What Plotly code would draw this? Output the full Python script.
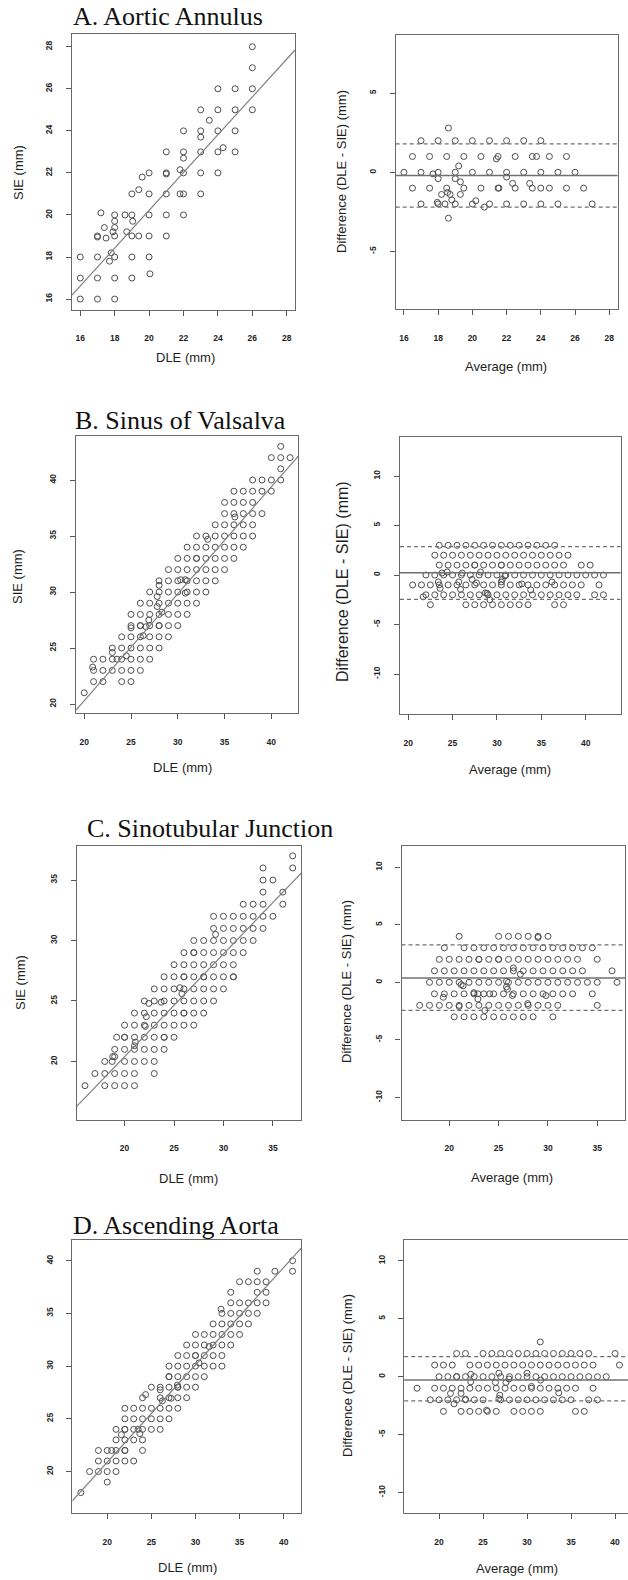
import plotly.graph_objects as go

W, H = 628, 1580

# ---------------- DATA ----------------
# Panel A - Aortic Annulus, scatter (DLE vs SIE)
A_dle = [26,26,26,26,24,25,23,24,25,23.5,22,23,24,25,23,21,22,23,24,25,24.3,22,21,21,22,23,24,21.8,20,19.6,
         19,19.4,20,21,21.8,22,23,17.2,18,18.6,19,20,21,22,18,19.05,17.4,18,17.9,18.7,17,17,17.5,18,19,19.4,20,21,
         16,17,17.8,18,19,20,17.7,16,17,18,19,20.05,16,17,18]
A_sie = [28,27,26,25,26,26,25,25,25,24.5,24,24,24,24,23.7,23,23,23,23,23,23.2,22.7,22,21.95,22,22,22,22.15,22,21.8,
         21,21.2,21,21,21,21,21,20.1,20,20,20,20,20,20,19.7,19.7,19.4,19.4,19.2,19.2,19,18.95,18.9,19,19,19,19,19,
         18,18,18.2,18,18,18,17.8,17,17,17,17,17.2,16,16,16]
A_fit = (2.24, 0.899)
# Panel A - Bland-Altman rows {difference: [averages]}
A_ba_rows = {
    2: [17,18,19,20,21,22,23,24],
    1: [16.5,17.5,18.5,19.5,20.5,21.5,22.5,23.5,23.75,24.5,25.5],
    0: [16,17,18,19,20,21,22,23,24,25,26],
    -1: [16.5,17.5,18.5,19.5,20.5,21.5,21.55,22.5,23.5,24,24.5,25.5,26.5],
    -2: [17,18,18.4,19,20,21,22,23,24,25,27],
}
A_ba_extra_avg = [18.6,21.4,19.2,17.7,18,19,19.3,22,22.35,23.35,18.55,18.7,18.2,19.3,18.8,20.2,17.95,20.7,18.6]
A_ba_extra_dif = [2.8,0.85,0.4,-0.1,-0.4,-0.4,-0.6,-0.3,-0.7,-0.7,-1.27,-1.4,-1.4,-1.4,-1.75,-1.8,-1.9,-2.2,-2.9]
A_ba_lines = (-0.2, 1.8, -2.2)

# Panel B - Sinus of Valsalva, scatter rows {SIE: [DLE]}
B_sc_rows = {
    43: [41], 42: [40,41,42], 41: [41], 40: [38,39,40,41], 39: [36,37,38,39,40],
    38: [35,36,37,38], 37: [35,36,37,38,39], 36: [34,35,36,37,38],
    35: [32,33,34,35,36,37,38], 34: [31,32,33,34,35,36,37], 33: [30,31,32,32,33,34,35,36],
    32: [29,30,31,32,33,34,35], 31: [28,29,30,31,32,33,34], 30: [27,28,29,30,31,32,33],
    29: [26,27,28,29,30,31,32], 28: [25,26,27,28,29,30,31], 27: [25,26,26,27,28,28,29,30],
    26: [24,25,26,27,28,29], 25: [23,24,25,26,27,28], 24: [21,22,23,24,25,26,27],
    23: [21,22,23,24,25,26], 22: [21,22,24,25], 21: [20],
}
B_sc_extra_dle = [36.1,33.2,30.3,30.8,30.8,28,27.8,27.8,28.3,25,26.6,26.9,26.3,23,23.5,24.5,20.9]
B_sc_extra_sie = [36.7,34.7,31.1,31.1,29.9,30.6,29.6,28.7,28.2,26.8,26.9,27.5,26.1,24.6,24,24.3,23.3]
B_fit = (1.21, 0.9545)
B_ba_rows = {
    3: [23.5,24.5,25.5,26.5,27.5,28.5,29.5,30.5,31.5,32.5,33.5,34.5,35.5,36.5],
    2: [23,24,25,26,27,28,29,30,31,32,33,34,35,36,37,38],
    1: [23.5,24.5,25.5,26.5,27.5,28.5,29.5,30.5,31.5,32.5,33.5,34.5,35.5,36.5,37.5,39.5,40.5],
    0: [22,23,24,25,26,27,28,29,30,31,32,33,34,35,36,37,38,39,40,41,42],
    -1: [20.5,21.5,22.5,23.5,24.5,25.5,26.5,27.5,28.5,29.5,30.5,31.5,32.5,33.5,34.5,35.5,36.5,37.5,38.5,39.5,41.5],
    -2: [22,23,24,25,26,27,28,29,30,31,32,33,34,35,36,37,38,39,41,42],
    -3: [22.5,26.5,27.5,28.5,29.5,30.5,31.5,32.5,33.5,36.5,37.5],
}
B_ba_extra_avg = [21.7,23.4,23.6,23.8,24.4,25.7,25.9,26.1,27.2,27.7,28.15,28.7,28.9,29.2,30.5,30.6,30.9,32.8,33.8,36.2,27.5,30.5]
B_ba_extra_dif = [-2.2,-0.7,-1.35,0.2,0.3,-0.7,-1.45,0.2,-0.45,-0.8,0.3,-1.8,-1.85,-2.5,-0.7,-0.45,-0.1,-0.9,-1.5,-0.7,1.0,1.0]
B_ba_lines = (0.23, 2.86, -2.46)

# Panel C - Sinotubular Junction, scatter rows {SIE: [DLE]}
C_sc_rows = {
    37: [37], 36: [34,37], 35: [34,35], 34: [34,36], 33: [32,33,34,36],
    32: [29,30,31,32,33,34,35], 31: [29,30,31,32,33,34], 30: [27,28,29,30,31,32,33],
    29: [26,27,27,28,29,30,31,32], 28: [25,26,27,28,29,30,31],
    27: [24,25,26,26,27,28,28,29,30,31,31], 26: [23,24,25,26,27,28,29,30],
    25: [22,23,24,25,26,27,28,29], 24: [21,22,23,24,25,26,26,27,28],
    23: [20,21,22,23,24,25,26,27], 22: [19.2,20,20,21,22,23,24,24,25],
    21: [19,20,21,22,23,24], 20: [18,18.75,20,21,22,23], 19: [17,18,19,20,21,23],
    18: [16,18,19,20,21],
}
C_sc_extra_dle = [29.2,25.6,25.8,22.45,23.7,22.2,22.1,21.1,21.0,18.8,19.0]
C_sc_extra_sie = [30.5,26.1,25.6,24.8,24.9,23.7,22.9,21.6,21.3,20.4,20.4]
C_fit = (3.40, 0.8497)
C_ba_rows = {
    4: [21,25,26,27,28,29,30],
    3: [19.5,21.5,22.5,23.5,24.5,25.5,26.5,27.5,28.5,29.5,30.5,31.5,32.5,33.5,34.5],
    2: [19,20,21,22,23,24,25,26,27,28,29,30,31,32,33,35],
    1: [18.5,19.5,20.5,21.5,22.5,23.5,24.5,25.5,26.5,27.5,28.5,29.5,30.5,31.5,32.5,33.5,36.5],
    0: [18,19,20,21,22,23,24,25,26,27,28,29,30,31,32,33,34,35,37],
    -1: [18.5,19.5,20.5,21.5,22.5,23.5,24.5,25.5,26.5,27.5,28.5,29.5,30.5,31.5,32.5,34.5],
    -2: [17,18,19,20,21,22,23,24,25,26,27,28,29,30,31,35],
    -3: [20.5,21.5,22.5,23.5,24.5,25.5,26.5,27.5,28.5,30.5],
}
C_ba_extra_avg = [29,23,25,21,19.4,21.2,21.4,22.5,22.9,23.6,24.1,25.8,25.9,25.8,26.4,26.5,27.2,27.95,29.8,22.9]
C_ba_extra_dif = [3.9,2.0,2.0,-2.1,-1.3,-0.2,-0.3,-0.9,-1.45,-2.45,-1.0,-0.4,-0.6,0.1,-1.15,1.25,0.7,-1.85,-1.15,-1.0]
C_ba_lines = (0.38, 3.25, -2.43)

# Panel D - Ascending Aorta, scatter rows {SIE: [DLE]}
D_sc_rows = {
    40: [41], 39: [37,39,41], 38: [35,36,37,38], 37: [34,37,38], 36: [34,35,36,37,38],
    35: [33,34,35,36,37], 34: [32,33,34,35,36], 33: [30,31,32,33,34,35],
    32: [29,30,31,32,33,34], 31: [28,29,30,30,31,32,33], 30: [27,28,29,30,31,32,33],
    29: [27,27,28,29,30,31], 28: [25,26,27,28,28,29,30], 27: [24,26,27,28,29],
    26: [22,23,24,25,26,27,28], 25: [22,23,24,25,26,27], 24: [21,22,22,23,23.5,24,25,26],
    23: [21,22,23,24], 22: [19,20,20.5,21,22,22,24], 21: [19,20,21,22,23], 20: [18,19,20,21],
    19: [20], 18: [17],
}
D_sc_extra_dle = [32.9,31.55,30.4,26,27.95,24.35,26.25,27.25,21.6,23.7]
D_sc_extra_sie = [35.4,31.85,30.3,27.75,28.2,27.3,26.7,26.95,23.5,23.6]
D_fit = (2.40, 0.924)
D_ba_rows = {
    3: [31.5],
    2: [22,23,25,26,27,28,29,30,31,32,33,34,35,36,37,40],
    1: [19.5,20.5,21.5,23.5,24.5,25.5,26.5,27.5,28.5,29.5,30.5,31.5,32.5,33.5,34.5,35.5,36.5,37.5,40.5],
    0: [20,21,22,23,24,25,26,27,28,29,30,31,32,33,34,35,36,37,38,39],
    -1: [17.5,19.5,20.5,21.5,22.5,23.5,24.5,25.5,26.5,27.5,28.5,29.5,30.5,31.5,32.5,33.5,34.5,35.5,37.5],
    -2: [19,20,21,22,23,24,25,27,28,29,30,31,32,33,34,35,37,38],
    -3: [20.5,22.5,23.5,24.5,25.5,26.5,28.5,29.5,30.5,31.5,35.5,36.5],
}
D_ba_extra_avg = [21.3,21.7,22.5,23,23.6,23.6,25.4,26.4,26.8,26.9,26.8,27.6,27.95,30.0,30.5,31.55,33.6,22]
D_ba_extra_dif = [-1.45,-2.35,-1.45,-1.95,0.2,-0.45,-2.9,-0.5,0.3,-1.6,-1.9,-0.5,-0.2,0.3,-0.85,-0.3,-1.4,0]
D_ba_lines = (-0.29, 1.73, -2.1)

titles = ["A. Aortic Annulus", "B. Sinus of Valsalva", "C. Sinotubular Junction", "D. Ascending Aorta"]

# ---------------- helpers ----------------
def rows_to_xy(rows):
    xs, ys = [], []
    for k, vals in rows.items():
        for v in vals:
            xs.append(v)
            ys.append(k)
    return xs, ys

def px_x(p):
    return p / W

def px_y(p):
    return 1 - p / H

MK = dict(symbol="circle-open", size=6, color="#4e4e4e", line=dict(width=1))
TICKFONT = dict(family="Liberation Sans, Arial", size=8.5, color="#1e1e1e", weight="bold")
TITLEFONT = dict(family="Liberation Sans, Arial", size=13, color="#1e1e1e")
LINEC = "#6a6a6a"

fig = go.Figure()
layout = dict(width=W, height=H, margin=dict(l=0, r=0, t=0, b=0), showlegend=False,
              paper_bgcolor="white", plot_bgcolor="white")
shapes, annotations = [], []

sc_B_x, sc_B_y = rows_to_xy(B_sc_rows)
sc_C_x, sc_C_y = rows_to_xy(C_sc_rows)
sc_D_x, sc_D_y = rows_to_xy(D_sc_rows)
ba_A_x, ba_A_y = rows_to_xy(A_ba_rows)
ba_B_x, ba_B_y = rows_to_xy(B_ba_rows)
ba_C_x, ba_C_y = rows_to_xy(C_ba_rows)
ba_D_x, ba_D_y = rows_to_xy(D_ba_rows)

panels = [
    dict(x=A_dle, y=A_sie, box=(72, 295, 34.3, 310), xr=[15.52, 28.48], yr=[15.48, 28.59],
         xt=[16,18,20,22,24,26,28], yt=[16,18,20,22,24,26,28], fit=A_fit),
    dict(x=ba_A_x + A_ba_extra_avg, y=ba_A_y + A_ba_extra_dif, box=(395.7, 617.5, 35, 309.3),
         xr=[15.52, 28.48], yr=[-8.66, 8.68], xt=[16,18,20,22,24,26,28], yt=[-5,0,5], ba=A_ba_lines),
    dict(x=sc_B_x + B_sc_extra_dle, y=sc_B_y + B_sc_extra_sie, box=(76, 298.3, 436, 713.3),
         xr=[19.12, 42.88], yr=[19.17, 43.93], xt=[20,25,30,35,40], yt=[20,25,30,35,40], fit=B_fit),
    dict(x=ba_B_x + B_ba_extra_avg, y=ba_B_y + B_ba_extra_dif, box=(400, 620.5, 436.7, 714.3),
         xr=[19.08, 43.92], yr=[-14.07, 13.97], xt=[20,25,30,35,40], yt=[-10,-5,0,5,10], ba=B_ba_lines),
    dict(x=sc_C_x + C_sc_extra_dle, y=sc_C_y + C_sc_extra_sie, box=(76.7, 301, 845.7, 1120),
         xr=[15.16, 37.84], yr=[15.16, 37.84], xt=[20,25,30,35], yt=[20,25,30,35], fit=C_fit),
    dict(x=ba_C_x + C_ba_extra_avg, y=ba_C_y + C_ba_extra_dif, box=(401.5, 625.3, 845.7, 1120),
         xr=[15.16, 37.84], yr=[-11.97, 11.88], xt=[20,25,30,35], yt=[-10,-5,0,5,10], ba=C_ba_lines),
    dict(x=sc_D_x + D_sc_extra_dle, y=sc_D_y + D_sc_extra_sie, box=(72.3, 301, 1240, 1513.3),
         xr=[16.04, 41.96], yr=[16.04, 41.96], xt=[20,25,30,35,40], yt=[20,25,30,35,40], fit=D_fit),
    dict(x=ba_D_x + D_ba_extra_avg, y=ba_D_y + D_ba_extra_dif, box=(404.2, 628, 1240, 1513.3),
         xr=[16.04, 41.47], yr=[-11.8, 11.8], xt=[20,25,30,35,40], yt=[-10,-5,0,5,10], ba=D_ba_lines,
         open_right=True),
]

for i, p in enumerate(panels, start=1):
    xa, ya = ("x" if i == 1 else f"x{i}"), ("y" if i == 1 else f"y{i}")
    l, r, t, b = p["box"]
    common = dict(showgrid=False, zeroline=False, showline=True, linecolor=LINEC, linewidth=1.3,
                  ticks="outside", ticklen=5, tickwidth=1, tickcolor="#555", tickfont=TICKFONT)
    layout["xaxis" if i == 1 else f"xaxis{i}"] = dict(
        domain=[px_x(l), min(1.0, px_x(r))], range=p["xr"], anchor=ya, mirror=True,
        tickvals=p["xt"], ticktext=[str(v) for v in p["xt"]], ticklabelstandoff=15, **common)
    layout["yaxis" if i == 1 else f"yaxis{i}"] = dict(
        domain=[px_y(b), px_y(t)], range=p["yr"], anchor=xa, mirror=not p.get("open_right", False),
        tickvals=p["yt"], ticktext=[str(v) for v in p["yt"]], tickangle=-90, ticklabelstandoff=10, **common)

    fig.add_trace(go.Scatter(x=p["x"], y=p["y"], mode="markers", marker=MK, xaxis=xa, yaxis=ya,
                             cliponaxis=True, hoverinfo="skip"))
    if "fit" in p:
        a, s = p["fit"]
        x0, x1 = p["xr"]
        fig.add_trace(go.Scatter(x=[x0, x1], y=[a + s * x0, a + s * x1], mode="lines",
                                 line=dict(color="#808080", width=1.2), xaxis=xa, yaxis=ya, hoverinfo="skip"))
    if "ba" in p:
        mean, up, lo = p["ba"]
        xd = f"{xa} domain"
        shapes.append(dict(type="line", xref=xd, yref=ya, x0=0, x1=1, y0=mean, y1=mean,
                           line=dict(color="#707070", width=1.6)))
        for yv in (up, lo):
            shapes.append(dict(type="line", xref=xd, yref=ya, x0=0, x1=1, y0=yv, y1=yv,
                               line=dict(color="#707070", width=1.3, dash="4px,3px")))

def ann(text, x, y, font, angle=0):
    annotations.append(dict(text=text, x=px_x(x), y=px_y(y), xref="paper", yref="paper",
                            showarrow=False, xanchor="center", yanchor="middle", font=font, textangle=angle))

TF = dict(family="Liberation Serif, Times New Roman", size=26, color="#111")
ann(titles[0], 168, 17, TF)
ann(titles[1], 180, 421, TF)
ann(titles[2], 210, 828, TF)
ann(titles[3], 176, 1225, TF)

# axis titles
ann("SIE (mm)", 18, 173, TITLEFONT, -90)
ann("DLE (mm)", 185, 357, TITLEFONT)
ann("Difference (DLE - SIE) (mm)", 341, 172, TITLEFONT, -90)
ann("Average (mm)", 506, 366, TITLEFONT)

ann("SIE (mm)", 18, 577, TITLEFONT, -90)
ann("DLE (mm)", 182, 768, TITLEFONT)
ann("Difference (DLE - SIE) (mm)", 342, 582, dict(TITLEFONT, size=16), -90)
ann("Average (mm)", 510, 770, TITLEFONT)

ann("SIE (mm)", 20, 983, TITLEFONT, -90)
ann("DLE (mm)", 188, 1178, TITLEFONT)
ann("Difference (DLE - SIE) (mm)", 346, 982, TITLEFONT, -90)
ann("Average (mm)", 512, 1177, TITLEFONT)

ann("DLE (mm)", 187, 1567, TITLEFONT)
ann("Difference (DLE - SIE) (mm)", 347, 1376, TITLEFONT, -90)
ann("Average (mm)", 517, 1568, TITLEFONT)

layout["shapes"] = shapes
layout["annotations"] = annotations
fig.update_layout(**layout)
fig.write_html("out.html", config={"displayModeBar": False},
               post_script="document.body.style.margin='0';document.body.style.overflow='hidden';")
